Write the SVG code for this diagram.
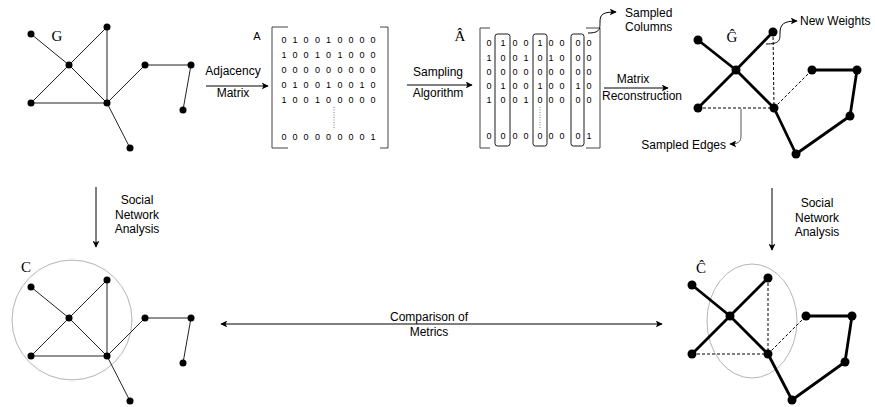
<svg xmlns="http://www.w3.org/2000/svg" width="875" height="407" viewBox="0 0 875 407">
<defs>
<marker id="arr" viewBox="0 0 10 10" refX="9" refY="5" markerWidth="7" markerHeight="7" orient="auto-start-reverse" markerUnits="userSpaceOnUse">
<path d="M0,0 L10,5 L0,10 L2.5,5 Z" fill="#000"/>
</marker>
<style>
.e{stroke:#222;stroke-width:1;fill:none}
.eb{stroke:#000;stroke-width:2.8;fill:none;stroke-linecap:round}
.ed{stroke:#000;stroke-width:1;stroke-dasharray:3 2;fill:none}
.ln{stroke:#000;stroke-width:1;fill:none}
.br{stroke:#444;stroke-width:1;fill:none}
.n{fill:#000}
.t{font-family:"Liberation Sans",Arial,sans-serif;font-size:12px;fill:#000;text-anchor:middle}
.m{font-family:"Liberation Sans",Arial,sans-serif;font-size:9px;fill:#000;text-anchor:middle}
.s{font-family:"Liberation Serif","Times New Roman",serif;font-size:15px;fill:#000;text-anchor:middle}
.box{fill:none;stroke:#000;stroke-width:0.9}
.ring{fill:none;stroke:#b5b5b5;stroke-width:1}
</style>
</defs>
<rect width="875" height="407" fill="#fff"/>

<!-- Graph G -->
<g id="graph-G">
<g class="e">
<line x1="31" y1="34" x2="69" y2="65"/>
<line x1="69" y1="65" x2="107" y2="27"/>
<line x1="69" y1="65" x2="31" y2="103"/>
<line x1="69" y1="65" x2="107" y2="103"/>
<line x1="107" y1="27" x2="107" y2="103"/>
<line x1="31" y1="103" x2="107" y2="103"/>
<line x1="107" y1="103" x2="130" y2="148"/>
<line x1="107" y1="103" x2="145" y2="65"/>
<line x1="145" y1="65" x2="191" y2="65"/>
<line x1="191" y1="65" x2="183" y2="110"/>
</g>
<g class="n">
<circle cx="31" cy="34" r="3.5"/><circle cx="69" cy="65" r="3.5"/><circle cx="107" cy="27" r="3.5"/>
<circle cx="31" cy="103" r="3.5"/><circle cx="107" cy="103" r="3.5"/><circle cx="130" cy="148" r="3.5"/>
<circle cx="145" cy="65" r="3.5"/><circle cx="191" cy="65" r="3.5"/><circle cx="183" cy="110" r="3.5"/>
</g>
<text class="s" x="57" y="41">G</text>
</g>

<!-- Matrix A -->
<g id="matrix-A">
<text class="m" x="257" y="40" style="font-size:11px">A</text>
<path class="br" d="M288 27 H272 V148 H288"/>
<path class="br" d="M380 27 H388 V148 H380"/>
<g class="m">
<text y="43"><tspan x="284">0</tspan><tspan x="295">1</tspan><tspan x="306">0</tspan><tspan x="317.5">0</tspan><tspan x="328.5">1</tspan><tspan x="340">0</tspan><tspan x="351">0</tspan><tspan x="362">0</tspan><tspan x="373">0</tspan></text>
<text y="58"><tspan x="284">1</tspan><tspan x="295">0</tspan><tspan x="306">0</tspan><tspan x="317.5">1</tspan><tspan x="328.5">0</tspan><tspan x="340">1</tspan><tspan x="351">0</tspan><tspan x="362">0</tspan><tspan x="373">0</tspan></text>
<text y="73"><tspan x="284">0</tspan><tspan x="295">0</tspan><tspan x="306">0</tspan><tspan x="317.5">0</tspan><tspan x="328.5">0</tspan><tspan x="340">0</tspan><tspan x="351">0</tspan><tspan x="362">0</tspan><tspan x="373">0</tspan></text>
<text y="88"><tspan x="284">0</tspan><tspan x="295">1</tspan><tspan x="306">0</tspan><tspan x="317.5">0</tspan><tspan x="328.5">1</tspan><tspan x="340">0</tspan><tspan x="351">0</tspan><tspan x="362">1</tspan><tspan x="373">0</tspan></text>
<text y="103"><tspan x="284">1</tspan><tspan x="295">0</tspan><tspan x="306">0</tspan><tspan x="317.5">1</tspan><tspan x="328.5">0</tspan><tspan x="340">0</tspan><tspan x="351">0</tspan><tspan x="362">0</tspan><tspan x="373">0</tspan></text>
<text y="140"><tspan x="284">0</tspan><tspan x="295">0</tspan><tspan x="306">0</tspan><tspan x="317.5">0</tspan><tspan x="328.5">0</tspan><tspan x="340">0</tspan><tspan x="351">0</tspan><tspan x="362">0</tspan><tspan x="373">1</tspan></text>
</g>
<line x1="334" y1="107" x2="334" y2="128" stroke="#555" stroke-width="0.8" stroke-dasharray="1 1.5"/>
</g>

<!-- Matrix A-hat -->
<g id="matrix-Ahat">
<text class="s" x="460" y="41">Â</text>
<path class="br" d="M490 28 H480 V148 H490"/>
<path class="br" d="M586 28 H600 V148 H586"/>
<rect class="box" x="495" y="34" width="15" height="112" rx="2.5"/>
<rect class="box" x="533" y="34" width="14" height="112" rx="2.5"/>
<rect class="box" x="571" y="34" width="13" height="112" rx="2.5"/>
<g class="m">
<text y="46"><tspan x="489">0</tspan><tspan x="503">1</tspan><tspan x="515">0</tspan><tspan x="526">0</tspan><tspan x="540">1</tspan><tspan x="551">0</tspan><tspan x="562">0</tspan><tspan x="578">0</tspan><tspan x="589">0</tspan></text>
<text y="61"><tspan x="489">1</tspan><tspan x="503">0</tspan><tspan x="515">0</tspan><tspan x="526">1</tspan><tspan x="540">0</tspan><tspan x="551">1</tspan><tspan x="562">0</tspan><tspan x="578">0</tspan><tspan x="589">0</tspan></text>
<text y="75"><tspan x="489">0</tspan><tspan x="503">0</tspan><tspan x="515">0</tspan><tspan x="526">0</tspan><tspan x="540">0</tspan><tspan x="551">0</tspan><tspan x="562">0</tspan><tspan x="578">0</tspan><tspan x="589">0</tspan></text>
<text y="89"><tspan x="489">0</tspan><tspan x="503">1</tspan><tspan x="515">0</tspan><tspan x="526">0</tspan><tspan x="540">1</tspan><tspan x="551">0</tspan><tspan x="562">0</tspan><tspan x="578">1</tspan><tspan x="589">0</tspan></text>
<text y="103"><tspan x="489">1</tspan><tspan x="503">0</tspan><tspan x="515">0</tspan><tspan x="526">1</tspan><tspan x="540">0</tspan><tspan x="551">0</tspan><tspan x="562">0</tspan><tspan x="578">0</tspan><tspan x="589">0</tspan></text>
<text y="139"><tspan x="489">0</tspan><tspan x="503">0</tspan><tspan x="515">0</tspan><tspan x="526">0</tspan><tspan x="540">0</tspan><tspan x="551">0</tspan><tspan x="562">0</tspan><tspan x="578">0</tspan><tspan x="589">1</tspan></text>
</g>
<line x1="540" y1="107" x2="540" y2="128" stroke="#555" stroke-width="0.8" stroke-dasharray="1 1.5"/>
</g>

<!-- Graph G-hat -->
<g id="graph-Ghat">
<g class="ed">
<line x1="773" y1="32" x2="774" y2="108"/>
<line x1="698" y1="108" x2="774" y2="108"/>
<line x1="774" y1="108" x2="812" y2="70"/>
</g>
<g class="eb">
<line x1="698" y1="40" x2="736" y2="70"/>
<line x1="736" y1="70" x2="774" y2="108"/>
<line x1="698" y1="108" x2="736" y2="70"/>
<line x1="736" y1="70" x2="773" y2="32"/>
<line x1="774" y1="108" x2="796" y2="154"/>
<line x1="796" y1="154" x2="850" y2="116"/>
<line x1="850" y1="116" x2="857" y2="70"/>
<line x1="857" y1="70" x2="812" y2="70"/>
</g>
<g class="n">
<circle cx="698" cy="40" r="4.5"/><circle cx="773" cy="32" r="4.5"/><circle cx="736" cy="70" r="4.5"/>
<circle cx="698" cy="108" r="4.5"/><circle cx="774" cy="108" r="4.5"/><circle cx="812" cy="70" r="4.5"/>
<circle cx="857" cy="70" r="4.5"/><circle cx="850" cy="116" r="4.5"/><circle cx="796" cy="154" r="4.5"/>
</g>
<text class="s" x="732" y="42">Ĝ</text>
</g>

<!-- Community C -->
<g id="graph-C">
<circle class="ring" cx="72" cy="320" r="60"/>
<g class="e">
<line x1="31" y1="287" x2="69" y2="318"/>
<line x1="69" y1="318" x2="107" y2="280"/>
<line x1="69" y1="318" x2="31" y2="356"/>
<line x1="69" y1="318" x2="107" y2="356"/>
<line x1="107" y1="280" x2="107" y2="356"/>
<line x1="31" y1="356" x2="107" y2="356"/>
<line x1="107" y1="356" x2="130" y2="401"/>
<line x1="107" y1="356" x2="145" y2="318"/>
<line x1="145" y1="318" x2="191" y2="318"/>
<line x1="191" y1="318" x2="183" y2="363"/>
</g>
<g class="n">
<circle cx="31" cy="287" r="3.5"/><circle cx="69" cy="318" r="3.5"/><circle cx="107" cy="280" r="3.5"/>
<circle cx="31" cy="356" r="3.5"/><circle cx="107" cy="356" r="3.5"/><circle cx="130" cy="401" r="3.5"/>
<circle cx="145" cy="318" r="3.5"/><circle cx="191" cy="318" r="3.5"/><circle cx="183" cy="363" r="3.5"/>
</g>
<text class="s" x="26" y="272">C</text>
</g>

<!-- Community C-hat -->
<g id="graph-Chat">
<ellipse class="ring" cx="752" cy="321" rx="45" ry="57"/>
<g class="ed">
<line x1="768" y1="278" x2="768" y2="354"/>
<line x1="692" y1="354" x2="768" y2="354"/>
<line x1="768" y1="354" x2="806" y2="316"/>
</g>
<g class="eb">
<line x1="692" y1="285" x2="730" y2="316"/>
<line x1="730" y1="316" x2="768" y2="354"/>
<line x1="692" y1="354" x2="730" y2="316"/>
<line x1="730" y1="316" x2="768" y2="278"/>
<line x1="768" y1="354" x2="792" y2="400"/>
<line x1="792" y1="400" x2="845" y2="362"/>
<line x1="845" y1="362" x2="852" y2="316"/>
<line x1="852" y1="316" x2="806" y2="316"/>
</g>
<g class="n">
<circle cx="692" cy="285" r="4.5"/><circle cx="768" cy="278" r="4.5"/><circle cx="730" cy="316" r="4.5"/>
<circle cx="692" cy="354" r="4.5"/><circle cx="768" cy="354" r="4.5"/><circle cx="806" cy="316" r="4.5"/>
<circle cx="852" cy="316" r="4.5"/><circle cx="845" cy="362" r="4.5"/><circle cx="792" cy="400" r="4.5"/>
</g>
<text class="s" x="701" y="273">Ĉ</text>
</g>

<!-- Connectors -->
<g id="connectors">
<line class="ln" x1="206" y1="86" x2="268" y2="86" marker-end="url(#arr)"/>
<line class="ln" x1="407" y1="85" x2="472" y2="85" marker-end="url(#arr)"/>
<line class="ln" x1="604" y1="88" x2="668" y2="88" marker-end="url(#arr)"/>
<path class="ln" d="M588 33 C600 33 600 29 600 22 C600 14 603 12 616 12" marker-end="url(#arr)"/>
<path class="ln" d="M766 44 C780 44 780 40 780 33 C780 24 784 21 797 21" marker-end="url(#arr)"/>
<path d="M741 109 L741 136 C741 142 738 144 730 144" fill="none" stroke="#555" stroke-width="1" marker-end="url(#arr)"/>
<line class="ln" x1="96" y1="187" x2="96" y2="247" marker-end="url(#arr)"/>
<line class="ln" x1="772" y1="188" x2="772" y2="250" marker-end="url(#arr)"/>
<line class="ln" x1="221" y1="324" x2="662" y2="324" marker-start="url(#arr)" marker-end="url(#arr)"/>
</g>

<!-- Labels -->
<g id="labels">
<text class="t" x="233" y="75">Adjacency</text>
<text class="t" x="233" y="97">Matrix</text>
<text class="t" x="438" y="76">Sampling</text>
<text class="t" x="438" y="97">Algorithm</text>
<text class="t" x="633" y="83">Matrix</text>
<text class="t" x="642" y="100">Reconstruction</text>
<text class="t" x="625" y="17" style="text-anchor:start">Sampled</text>
<text class="t" x="625" y="31" style="text-anchor:start">Columns</text>
<text class="t" x="800" y="25" style="text-anchor:start">New Weights</text>
<text class="t" x="726" y="149" style="text-anchor:end">Sampled Edges</text>
<text class="t" x="137" y="204">Social</text>
<text class="t" x="137" y="219">Network</text>
<text class="t" x="137" y="233">Analysis</text>
<text class="t" x="817" y="207">Social</text>
<text class="t" x="817" y="222">Network</text>
<text class="t" x="817" y="236">Analysis</text>
<text class="t" x="429" y="321">Comparison of</text>
<text class="t" x="429" y="336">Metrics</text>
</g>
</svg>
